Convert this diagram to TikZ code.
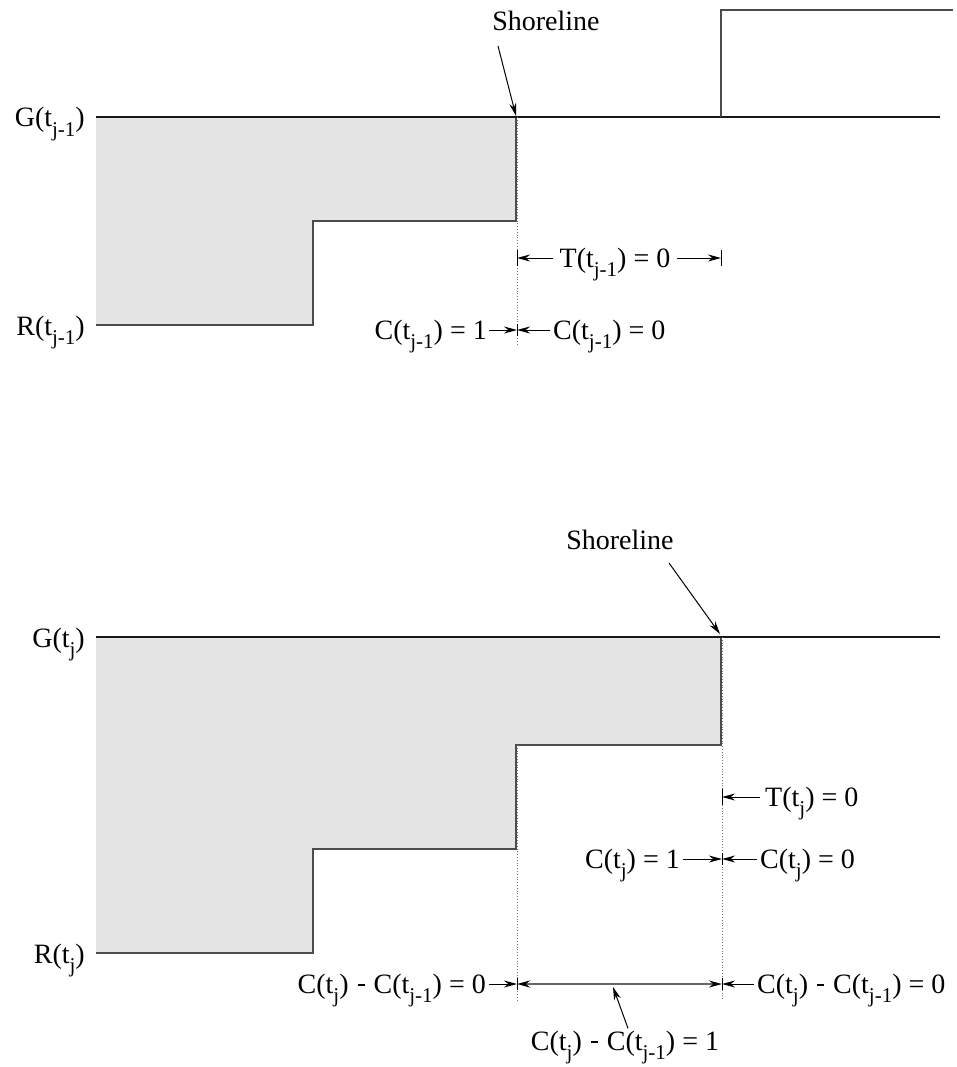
\documentclass[tikz,border=0pt]{standalone}
\usepackage{fontspec}
\setmainfont{Liberation Serif}
\usetikzlibrary{arrows.meta,calc}
\newcommand\sbx[1]{\raisebox{-9.5pt}{\fontsize{21}{21}\selectfont #1}}
\newcommand\mn{\hspace{2pt}\raisebox{0.24em}{\rule{7pt}{2.6pt}}\hspace{2pt}}
\begin{document}
\begin{tikzpicture}[x=1pt,y=-1pt,
  lbl/.style={font=\fontsize{28}{30}\selectfont, inner sep=0pt},
  edgeline/.style={line width=1.5pt, black!90},
  stepline/.style={line width=1.1pt, black!70},
  dots/.style={dotted, line width=0.8pt, black!55},
  arr/.style={line width=1pt, -{Stealth[length=13pt,width=7pt]}},
  dblarr/.style={line width=1.6pt, black!60, {Stealth[length=13pt,width=7pt,black]}-{Stealth[length=13pt,width=7pt,black]}},
  tickmark/.style={line width=1pt}]
\useasboundingbox (0,0) rectangle (956,1067);

% ---------------- top panel ----------------
\fill[black!10] (96,117) -- (516,117) -- (516,221) -- (313,221) -- (313,325) -- (96,325) -- cycle;
\draw[stepline] (516,117) -- (516,221) -- (313,221) -- (313,325) -- (96,325);
\draw[edgeline] (96,117) -- (940,117);
\draw[stepline] (721,117) -- (721,10) -- (953,10);
\draw[dots] (517,117) -- (517,345);

\coordinate (s1) at (516,116);
\coordinate (t1l) at (517,258);
\coordinate (t1r) at (721,258);
\coordinate (c1) at (517,330);

\node[lbl, anchor=base] (shore1) at (546,31) {Shoreline};
\node[lbl, anchor=base east] (g1) at (85,127) {G(t\sbx{j-1})};
\node[lbl, anchor=base east] (r1) at (85,335) {R(t\sbx{j-1})};
\node[lbl, anchor=base] (T1) at (615,267) {T(t\sbx{j-1}) = 0};
\node[lbl, anchor=base east] (c1a) at (487,339) {C(t\sbx{j-1}) = 1};
\node[lbl, anchor=base west] (c1b) at (553,339) {C(t\sbx{j-1}) = 0};

\draw[arr] (498,46) -- (s1);
\draw[arr] ($(T1.west |- t1l)+(-6,0)$) -- (t1l);
\draw[arr] ($(T1.east |- t1r)+(6,0)$) -- (t1r);
\draw[tickmark] ($(t1l)+(0,-8)$) -- ($(t1l)+(0,8)$);
\draw[tickmark] ($(t1r)+(0,-8)$) -- ($(t1r)+(0,8)$);
\draw[arr] ($(c1a.east |- c1)+(2,0)$) -- (c1);
\draw[arr] ($(c1b.west |- c1)+(-3,0)$) -- (c1);
\draw[tickmark] ($(c1)+(0,-6)$) -- ($(c1)+(0,6)$);

% ---------------- bottom panel ----------------
\fill[black!10] (96,637) -- (721,637) -- (721,745) -- (516,745) -- (516,849) -- (313,849) -- (313,953) -- (96,953) -- cycle;
\draw[stepline] (721,637) -- (721,745) -- (516,745) -- (516,849) -- (313,849) -- (313,953) -- (96,953);
\draw[edgeline] (96,637) -- (940,637);
\draw[dots] (722,637) -- (722,1000);
\draw[dots] (517,745) -- (517,1000);

\coordinate (s2) at (720,634);
\coordinate (t2) at (722,797);
\coordinate (c2) at (722,859);
\coordinate (d2l) at (517,984);
\coordinate (d2r) at (722,984);
\coordinate (d2m) at (613,987);

\node[lbl, anchor=base] (shore2) at (620,549) {Shoreline};
\node[lbl, anchor=base east] (g2) at (85,647) {G(t\sbx{j})};
\node[lbl, anchor=base east] (r2) at (85,963) {R(t\sbx{j})};
\node[lbl, anchor=base west] (T2) at (765,806) {T(t\sbx{j}) = 0};
\node[lbl, anchor=base east] (c2a) at (680,868) {C(t\sbx{j}) = 1};
\node[lbl, anchor=base west] (c2b) at (760,868) {C(t\sbx{j}) = 0};
\node[lbl, anchor=base east] (d2a) at (486,993) {C(t\sbx{j}) \mn{} C(t\sbx{j-1}) = 0};
\node[lbl, anchor=base west] (d2b) at (757,993) {C(t\sbx{j}) \mn{} C(t\sbx{j-1}) = 0};
\node[lbl, anchor=base] (d2c) at (625,1050) {C(t\sbx{j}) \mn{} C(t\sbx{j-1}) = 1};

\draw[arr] (669,563) -- (s2);
\draw[arr] ($(d2a.east |- d2l)+(3,0)$) -- (d2l);
\draw[arr] ($(T2.west |- t2)+(-5,0)$) -- (t2);
\draw[tickmark] ($(t2)+(0,-8)$) -- ($(t2)+(0,8)$);
\draw[arr] ($(c2a.east |- c2)+(3,0)$) -- (c2);
\draw[arr] ($(c2b.west |- c2)+(-3,0)$) -- (c2);
\draw[tickmark] ($(c2)+(0,-6)$) -- ($(c2)+(0,6)$);
\draw[dblarr] (d2l) -- (d2r);
\draw[arr] ($(d2b.west |- d2r)+(-3,0)$) -- (d2r);
\draw[tickmark] ($(d2l)+(0,-6)$) -- ($(d2l)+(0,6)$);
\draw[tickmark] ($(d2r)+(0,-6)$) -- ($(d2r)+(0,6)$);
\draw[arr] ($(d2c.north)+(3,-2)$) -- (d2m);
\end{tikzpicture}
\end{document}
